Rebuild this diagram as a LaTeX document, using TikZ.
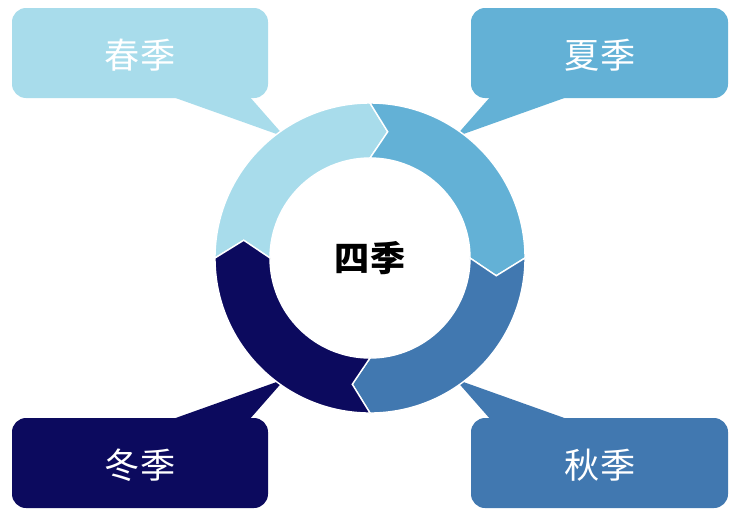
\documentclass[tikz,border=0pt]{standalone}
\usepackage{fontspec}
\newfontfamily\cjk{Noto Sans CJK SC}
\definecolor{cspring}{HTML}{A8DCEB}
\definecolor{csummer}{HTML}{63B1D6}
\definecolor{cautumn}{HTML}{4178B0}
\definecolor{cwinter}{HTML}{0C0A5E}
\begin{document}
\begin{tikzpicture}[x=0.03cm,y=0.03cm]
\tikzset{
  lbl/.style={text=white,font=\cjk\fontsize{30}{30}\selectfont},
  seg/.style={draw=white,line width=1.2pt}
}
\useasboundingbox (0,0) rectangle (740,-519);
\fill[white] (0,0) rectangle (740,-519);
\def\Ro{155}\def\Ri{100}\def\Rm{127.5}\def\dd{8}
% callouts with pointers
\fill[cspring,rounded corners=12] (12,-8) rectangle (268,-98);
\fill[cspring] (170,-96) -- (285,-137) -- (249,-96) -- cycle;
\fill[csummer,rounded corners=12] (471,-8) rectangle (728,-98);
\fill[csummer] (570,-96) -- (455,-137) -- (491,-96) -- cycle;
\fill[cwinter,rounded corners=12] (12,-418) rectangle (268,-508);
\fill[cwinter] (170,-420) -- (285,-379) -- (249,-420) -- cycle;
\fill[cautumn,rounded corners=12] (471,-418) rectangle (728,-508);
\fill[cautumn] (570,-420) -- (455,-379) -- (491,-420) -- cycle;
\node[lbl] (spring) at (140,-55) {春季};
\node[lbl] (summer) at (600,-55) {夏季};
\node[lbl] (winter) at (140,-465) {冬季};
\node[lbl] (autumn) at (600,-465) {秋季};
% ring
\begin{scope}[shift={(370,-258)}]
\foreach \a/\c in {180/cspring,90/csummer,0/cautumn,-90/cwinter}{
  \pgfmathsetmacro\b{\a-90}
  \path[seg,fill=\c] (\a:\Ro) arc[start angle=\a,end angle=\b,radius=\Ro]
    -- (\b-\dd:\Rm) -- (\b:\Ri) arc[start angle=\b,end angle=\a,radius=\Ri]
    -- (\a-\dd:\Rm) -- cycle;
}
\end{scope}
\node[font=\cjk\bfseries\fontsize{30}{30}\selectfont] (center) at (370,-258) {四季};
\end{tikzpicture}
\end{document}
